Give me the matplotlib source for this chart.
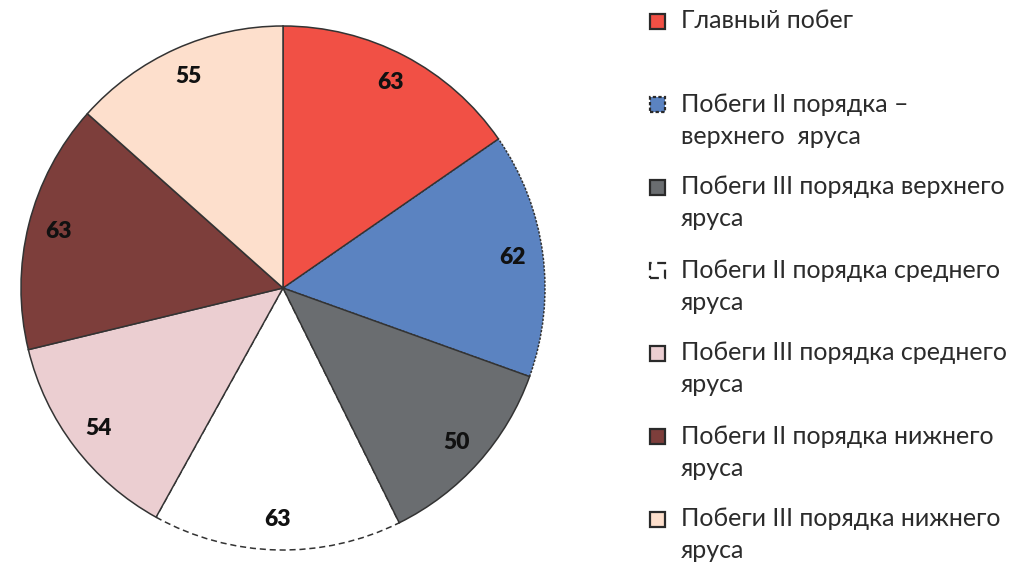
import matplotlib.pyplot as plt
from matplotlib.patches import Rectangle

plt.rcParams['font.family'] = ['Lato', 'DejaVu Sans']

# данные диаграммы
labels = ['Главный побег',
          'Побеги II порядка –\nверхнего  яруса',
          'Побеги III порядка верхнего\nяруса',
          'Побеги II порядка среднего\nяруса',
          'Побеги III порядка среднего\nяруса',
          'Побеги II порядка нижнего\nяруса',
          'Побеги III порядка нижнего\nяруса']
values = [63, 62, 50, 63, 54, 63, 55]
colors = ['#F15045', '#5B83C1', '#6A6D70', '#FFFFFF', '#EBCED1', '#7D3E3B', '#FDDFCC']
styles = ['solid', (0, (1.5, 1)), 'solid', (0, (4, 2.5)), 'solid', 'solid', 'solid']

W, H = 1016, 564
fig = plt.figure(figsize=(W / 100, H / 100), dpi=100)
cx, cy, r = 283, 288, 262
ax = fig.add_axes([(cx - r) / W, (H - cy - r) / H, 2 * r / W, 2 * r / H])

total = sum(values)
wedges, texts, autotexts = ax.pie(values, colors=colors, startangle=90, counterclock=False,
                                  radius=1, pctdistance=0.885,
                                  autopct=lambda p: f'{p * total / 100:.0f}',
                                  wedgeprops=dict(edgecolor='#333333', linewidth=1.1),
                                  textprops=dict(fontsize=16.5, fontweight='heavy', color='#111111'))
for w, ls in zip(wedges, styles):
    w.set_linestyle(ls)
    if ls != 'solid':
        # пунктир только по внешней дуге: сплошные соседи поверх
        w.set_zorder(0.5)
ax.set_xlim(-1.0, 1.0)
ax.set_ylim(-1.0, 1.0)
ax.set_aspect('equal')
ax.axis('off')

# легенда справа, вручную
y0, step, line_h = 21, 83, 32
for i, (lab, c, ls) in enumerate(zip(labels, colors, styles)):
    y = y0 + i * step
    fig.patches.append(Rectangle((650 / W, (H - y - 7.5) / H), 15 / W, 15 / H,
                                 transform=fig.transFigure, facecolor=c,
                                 edgecolor='#2a2a2a', linewidth=1.6, linestyle=ls))
    for j, line in enumerate(lab.split('\n')):
        fig.text(681 / W, (H - y - j * line_h) / H, line, fontsize=18,
                 color='#2b2b2b', va='center', ha='left')

fig.savefig('out.png', dpi=100, facecolor='white')
